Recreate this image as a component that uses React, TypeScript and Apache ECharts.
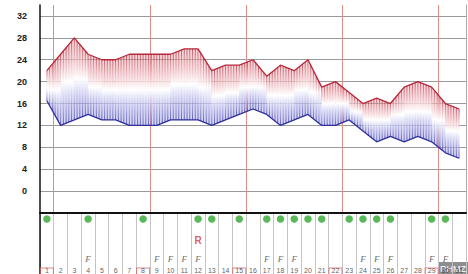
import React, { useEffect, useRef } from "react";
import * as echarts from "echarts";

const days = ["1","2","3","4","5","6","7","8","9","10","11","12","13","14","15","16","17","18","19","20","21","22","23","24","25","26","27","28","29","30","31"];
const high = [22,25,28,25,24,24,25,25,25,25,26,26,22,23,23,24,21,23,22,24,19,20,18,16,17,16,19,20,19,16,15];
const low = [16.5,12,13,14,13,13,12,12,12,13,13,13,12,13,14,15,14,12,13,14,12,12,13,11,9,10,9,10,9,7,6];
const dotDays = [1,4,8,12,13,15,17,18,19,20,21,23,24,25,26,29,30];
const fDays = [4,9,10,11,12,17,18,19,24,25,26,29,30];
const rDays = [12];
const weekDays = [1,8,15,22,29];
const yTicks = [0,4,8,12,16,20,24,28,32];

const FONT = "'Liberation Sans', Arial, sans-serif";

export default function App() {
  const ref = useRef<HTMLDivElement>(null);
  useEffect(() => {
    if (!ref.current) return;
    const chart = echarts.init(ref.current, null, { renderer: "svg" });
    const yMin = -4, yMax = 34;
    const renderBand = (params: any, api: any) => {
      const i = api.value(0);
      const children: any[] = [];
      if (i < high.length - 1) {
        const h0 = api.coord([i, high[i]]);
        const h1 = api.coord([i + 1, high[i + 1]]);
        const l0 = api.coord([i, low[i]]);
        const l1 = api.coord([i + 1, low[i + 1]]);
        const top = Math.min(h0[1], h1[1]);
        const bot = Math.max(l0[1], l1[1]);
        children.push({
          type: "polygon",
          shape: { points: [h0, h1, l1, l0] },
          style: {
            fill: {
              type: "linear", x: 0, y: top, x2: 0, y2: bot, global: true,
              colorStops: [
                { offset: 0, color: "rgba(228,140,150,0.32)" },
                { offset: 0.5, color: "rgba(255,255,255,1)" },
                { offset: 1, color: "rgba(140,140,225,0.34)" },
              ],
            },
            stroke: "none",
          },
        });
        const n = 5;
        const last = i === high.length - 2;
        for (let k = 0; k <= (last ? n : n - 1); k++) {
          const t = k / n;
          const x = h0[0] + t * (h1[0] - h0[0]);
          const yh = h0[1] + t * (h1[1] - h0[1]);
          const yl = l0[1] + t * (l1[1] - l0[1]);
          children.push({
            type: "line",
            shape: { x1: x, y1: yh, x2: x, y2: yl },
            style: {
              lineWidth: 0.8,
              stroke: {
                type: "linear", x: 0, y: yh, x2: 0, y2: yl, global: true,
                colorStops: [
                  { offset: 0, color: "rgba(165,20,40,0.85)" },
                  { offset: 0.4, color: "rgba(230,150,160,0.15)" },
                  { offset: 0.5, color: "rgba(255,255,255,0)" },
                  { offset: 0.6, color: "rgba(150,150,220,0.15)" },
                  { offset: 1, color: "rgba(30,30,150,0.85)" },
                ],
              },
            },
          });
        }
      }
      return { type: "group", children };
    };

    chart.setOption({
      animation: false,
      grid: [
        { left: 40, right: 2, top: 5, bottom: 61 },
        { left: 40, right: 2, top: 213, bottom: 0 },
      ],
      xAxis: [
        {
          type: "category", data: days, gridIndex: 0, boundaryGap: true,
          axisLine: { show: false }, axisTick: { show: false }, axisLabel: { show: false },
          splitLine: {
            show: true,
            interval: (index: number) => weekDays.includes(index),
            lineStyle: { color: "#e08a8a", width: 1 },
          },
        },
        {
          type: "category", data: days, gridIndex: 1, boundaryGap: true, position: "top",
          axisLine: { show: true, lineStyle: { color: "#111", width: 2 } },
          axisTick: { show: false }, axisLabel: { show: false },
          splitLine: { show: true, interval: 0, lineStyle: { color: "#c4c4c4", width: 1 } },
        },
      ],
      yAxis: [
        {
          type: "value", gridIndex: 0, min: yMin, max: yMax, interval: 4,
          axisLine: { show: true, lineStyle: { color: "#111", width: 1.5 } },
          axisTick: { show: false },
          axisLabel: {
            color: "#222", fontSize: 9, fontFamily: FONT, fontWeight: "bold", margin: 13,
            formatter: (v: number) => (yTicks.includes(v) ? String(v) : ""),
          },
          splitLine: {
            show: true,
            lineStyle: {
              color: ["transparent", "#9a9a9a", "#9a9a9a", "#9a9a9a", "#9a9a9a", "#9a9a9a", "#9a9a9a", "#9a9a9a", "#9a9a9a", "#9a9a9a", "transparent"],
              width: 1,
            },
          },
        },
        {
          type: "value", gridIndex: 1, min: 0, max: 61, inverse: true,
          axisLine: { show: true, lineStyle: { color: "#111", width: 1.5 } },
          axisTick: { show: false }, axisLabel: { show: false }, splitLine: { show: false },
        },
        {
          type: "value", gridIndex: 0, min: yMin, max: yMax, position: "right",
          axisLine: { show: true, lineStyle: { color: "#aaa", width: 1 } },
          axisTick: { show: false }, axisLabel: { show: false }, splitLine: { show: false },
        },
      ],
      series: [
        {
          type: "custom", xAxisIndex: 0, yAxisIndex: 0,
          renderItem: renderBand,
          data: days.map((_, i) => [i, high[i], low[i]]),
          encode: { x: 0, y: [1, 2] },
          z: 1,
        },
        {
          type: "line", xAxisIndex: 0, yAxisIndex: 0, data: high, symbol: "none",
          lineStyle: { color: "#b8283a", width: 1.3 }, z: 3,
        },
        {
          type: "line", xAxisIndex: 0, yAxisIndex: 0, data: low, symbol: "none",
          lineStyle: { color: "#2f2f9e", width: 1.3 }, z: 3,
        },
        {
          type: "scatter", xAxisIndex: 1, yAxisIndex: 1, symbol: "circle", symbolSize: 7.5,
          itemStyle: { color: "#2fa82f" },
          data: dotDays.map((d) => [d - 1, 6]),
        },
        {
          type: "scatter", xAxisIndex: 1, yAxisIndex: 1, symbolSize: 0,
          label: { show: true, position: "inside", formatter: "F", color: "#444", fontSize: 9, fontStyle: "italic", fontFamily: "'Liberation Serif', serif" },
          data: fDays.map((d) => [d - 1, 46]),
        },
        {
          type: "scatter", xAxisIndex: 1, yAxisIndex: 1, symbolSize: 0,
          label: { show: true, position: "inside", formatter: "R", color: "#d03838", fontSize: 10, fontWeight: "bold", fontFamily: FONT },
          data: rDays.map((d) => [d - 1, 27]),
        },
        {
          type: "scatter", xAxisIndex: 1, yAxisIndex: 1, symbol: "rect", symbolSize: [13, 12], clip: false,
          itemStyle: { color: "rgba(0,0,0,0)", borderColor: "#d86a6a", borderWidth: 1 },
          data: weekDays.map((d) => [d - 1, 61]),
          z: 4,
        },
        {
          type: "scatter", xAxisIndex: 1, yAxisIndex: 1, symbolSize: 0, clip: false,
          label: { show: true, position: "inside", formatter: (p: any) => days[p.value[0]], color: "#333", fontSize: 7, fontFamily: FONT },
          data: days.map((_, i) => [i, 57.5]),
          z: 5,
        },
      ],
      graphic: [
        {
          type: "group", right: 0, bottom: 0, z: 100,
          children: [
            { type: "rect", shape: { x: 0, y: 0, width: 30, height: 12 }, style: { fill: "rgba(130,130,130,0.9)" } },
            { type: "text", x: 2, y: 2, style: { text: "RHMZ", fill: "#fff", fontSize: 9, fontFamily: FONT } },
          ],
        },
      ],
    });
    return () => chart.dispose();
  }, []);
  return <div ref={ref} style={{ width: 468, height: 274, position: "absolute", left: 0, top: 0, background: "#fff" }} />;
}
